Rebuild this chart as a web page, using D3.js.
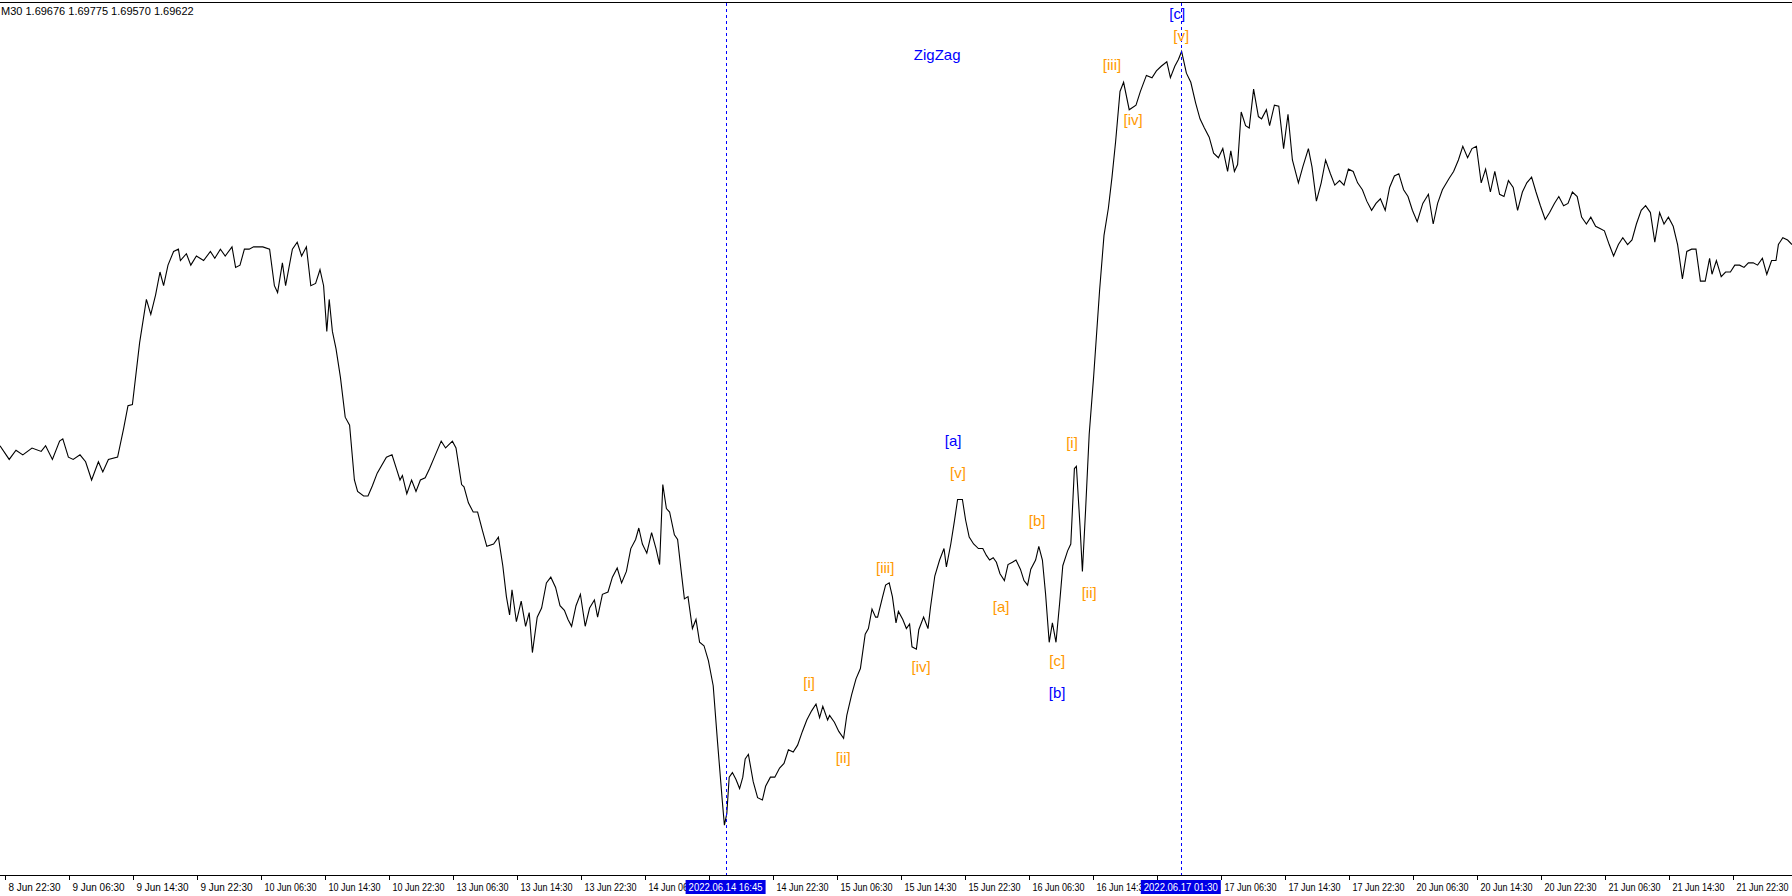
<!DOCTYPE html>
<html><head><meta charset="utf-8">
<script src="https://cdn.jsdelivr.net/npm/d3@7"></script>
<style>html,body{margin:0;padding:0;background:#fff;overflow:hidden}svg{display:block}</style>
</head><body>
<svg id="c" width="1792" height="896"></svg>
<script>
const headerText = "M30  1.69676 1.69775 1.69570 1.69622";
const barIndex = [
0,2.3,4,5.7,8,10.3,11.4,13.1,14.9,15.7,17.1,18.3,20,21.4,22.9,24.6,25.7,27.1,29.4,30.9,
32,33.1,34.9,36.6,37.7,38.9,40,40.9,42,43.4,44.6,45.1,46.6,47.7,49.1,50.9,52.6,53.7,55.1,56.3,
58,58.9,60,61.1,62.3,63.4,65.7,67.4,68.6,69.4,70.6,71.4,73.1,74.3,75.4,76.6,77.7,78.9,80,80.9,
81.7,82.3,83.1,84,85.1,86.3,87.4,88.6,89.4,90.9,92,93.1,94.3,96.6,98,99.1,100,100.6,101.7,102.9,
104,105.1,106.3,107.4,108.6,110.3,111.4,113.1,114,115.4,116,117.1,118.3,119.4,120.6,121.7,123.4,124.6,125.7,126.6,
127.4,128,129.1,130.3,131.4,132.3,133.1,134.3,135.4,136.6,137.7,138.9,140,141.1,142,142.9,144,145.1,146.3,147.4,
148.6,149.4,150.6,152,153.1,154.3,155.4,156.6,157.7,158.9,159.7,160.6,161.7,162.9,164,164.9,165.7,166.6,167.4,168.6,
169.4,170.3,171.1,172,173.1,174,174.9,176,177.1,178.3,179.4,180.6,181.1,181.7,182.3,183.1,184,184.9,185.7,186.3,
187.1,188.3,189.4,190.6,191.4,192.6,193.7,194.9,196,197.1,198.3,199.4,200.6,201.7,202.9,204,204.9,205.7,206.9,207.4,
208.6,209.7,210.9,211.7,212.9,214,215.1,216.3,217.1,218,218.9,219.4,220.6,221.4,222.3,223.1,224,224.6,225.7,226.6,
227.4,228,229.1,229.7,230.9,232,232.6,233.7,234.9,236,236.6,237.7,238.6,239.4,240.6,241.4,242.3,243.4,244.6,245.7,
246.6,247.4,248.3,249.1,250,251.1,252,253.1,254,255.1,256,256.9,257.7,258.9,259.7,260.6,261.4,262.3,263.1,264,
264.9,265.7,266.9,267.7,268.6,269.1,270,270.6,271.4,272.3,273.4,274.9,276,277.1,278,278.9,280,280.9,282.3,284,
285.1,286.6,288,289.1,290.3,291.7,292.6,293.7,294.6,295.4,296.6,297.7,298.9,300,301.1,302.3,303.4,304.6,305.7,306.9,
307.7,308.6,309.4,310.3,311.4,312.3,313.4,314.6,315.4,316.6,317.4,318.6,319.7,320.9,322,323.1,324.6,325.7,327.1,328,
329.1,330.3,331.4,332.6,333.7,334.9,336,337.1,338.3,339.4,340.6,341.7,342.9,344,345.1,346.3,347.4,348.6,349.7,350.9,
352,353.1,354.3,355.7,357.1,358.3,359.4,360.6,362.3,363.4,364.6,365.7,366.9,368,369.1,370.3,371.4,372.6,373.7,374.9,
376,377.1,378.3,379.4,380.6,381.7,382.9,384,385.1,386.3,387.4,388.6,389.7,390.9,392,393.1,394.3,395.4,396.6,397.7,
398.9,400,401.1,402.3,403.4,404.6,405.7,406.9,408,409.1,410.3,411.4,412.6,413.7,414.9,416,417.1,418.3,419.4,420.6,
421.7,422.9,424,425.1,426.3,427.4,428,429.1,430.3,431.4,432.6,433.7,434.9,436,437.1,438.3,439.4,440.6,441.7,442.9,
444,444.6,445.7,446.9,448];
const closePrice = [
1.6784,1.6772,1.6780,1.6776,1.6782,1.6779,1.6784,1.6772,1.6788,1.6790,1.6774,1.6772,1.6776,1.6770,1.6754,1.6770,1.6761,1.6772,1.6774,1.6799,
1.6819,1.6820,1.6874,1.6912,1.6899,1.6916,1.6936,1.6924,1.6942,1.6954,1.6956,1.6946,1.6952,1.6942,1.6950,1.6946,1.6954,1.6948,1.6956,1.6950,
1.6958,1.6940,1.6942,1.6956,1.6956,1.6958,1.6958,1.6956,1.6924,1.6918,1.6944,1.6924,1.6956,1.6962,1.6950,1.6958,1.6924,1.6926,1.6938,1.6924,
1.6884,1.6912,1.6884,1.6869,1.6844,1.6809,1.6802,1.6754,1.6744,1.6740,1.6740,1.6749,1.6760,1.6774,1.6776,1.6764,1.6754,1.6758,1.6742,1.6754,
1.6744,1.6754,1.6756,1.6764,1.6774,1.6788,1.6782,1.6788,1.6782,1.6750,1.6748,1.6734,1.6726,1.6726,1.6710,1.6696,1.6698,1.6704,1.6679,1.6652,
1.6636,1.6658,1.6630,1.6648,1.6626,1.6638,1.6603,1.6634,1.6642,1.6664,1.6669,1.6660,1.6644,1.6640,1.6632,1.6626,1.6644,1.6654,1.6626,1.6642,
1.6649,1.6634,1.6654,1.6656,1.6669,1.6677,1.6664,1.6674,1.6694,1.6702,1.6712,1.6698,1.6690,1.6708,1.6694,1.6680,1.6750,1.6729,1.6726,1.6706,
1.6702,1.6674,1.6650,1.6652,1.6624,1.6632,1.6612,1.6609,1.6596,1.6574,1.6524,1.6472,1.6452,1.6462,1.6494,1.6498,1.6492,1.6484,1.6494,1.6510,
1.6514,1.6490,1.6476,1.6474,1.6486,1.6494,1.6494,1.6502,1.6506,1.6518,1.6516,1.6522,1.6534,1.6544,1.6552,1.6558,1.6546,1.6556,1.6544,1.6548,
1.6542,1.6534,1.6528,1.6548,1.6566,1.6580,1.6589,1.6619,1.6624,1.6641,1.6634,1.6634,1.6651,1.6662,1.6664,1.6652,1.6629,1.6639,1.6632,1.6624,
1.6628,1.6608,1.6606,1.6623,1.6634,1.6624,1.6642,1.6670,1.6684,1.6694,1.6678,1.6698,1.6718,1.6737,1.6737,1.6719,1.6704,1.6698,1.6694,1.6694,
1.6688,1.6684,1.6686,1.6682,1.6672,1.6666,1.6680,1.6682,1.6684,1.6676,1.6666,1.6662,1.6676,1.6684,1.6696,1.6684,1.6654,1.6612,1.6629,1.6612,
1.6646,1.6679,1.6692,1.6698,1.6764,1.6766,1.6714,1.6674,1.6728,1.6794,1.6844,1.6920,1.6968,1.6992,1.7019,1.7050,1.7094,1.7102,1.7078,1.7082,
1.7094,1.7108,1.7106,1.7112,1.7116,1.7120,1.7106,1.7116,1.7122,1.7129,1.7110,1.7102,1.7084,1.7070,1.7062,1.7054,1.7040,1.7036,1.7044,1.7024,
1.7042,1.7024,1.7030,1.7076,1.7064,1.7062,1.7096,1.7072,1.7070,1.7078,1.7064,1.7082,1.7081,1.7044,1.7074,1.7034,1.7014,1.7028,1.7044,1.7028,
1.6998,1.7014,1.7034,1.7022,1.7012,1.7016,1.7012,1.7026,1.7024,1.7014,1.7008,1.6998,1.6990,1.6996,1.7000,1.6990,1.7010,1.7020,1.7022,1.7008,
1.7002,1.6990,1.6980,1.6996,1.7004,1.6978,1.6996,1.7008,1.7018,1.7024,1.7034,1.7046,1.7036,1.7044,1.7046,1.7014,1.7026,1.7006,1.7024,1.7004,
1.7002,1.7016,1.7010,1.6990,1.7006,1.7014,1.7019,1.7006,1.6994,1.6982,1.6988,1.6996,1.7002,1.6994,1.6996,1.7006,1.7002,1.6984,1.6978,1.6984,
1.6976,1.6974,1.6972,1.6960,1.6950,1.6960,1.6966,1.6960,1.6964,1.6978,1.6990,1.6994,1.6988,1.6962,1.6988,1.6978,1.6984,1.6976,1.6960,1.6930,
1.6954,1.6956,1.6956,1.6928,1.6928,1.6948,1.6934,1.6946,1.6932,1.6936,1.6936,1.6942,1.6942,1.6940,1.6944,1.6944,1.6942,1.6948,1.6934,1.6946,
1.6946,1.6960,1.6966,1.6964,1.6960];
const tickBars = d3.range(28).map(k => 1.15 + 16 * k);
const tickLabels = ["8 Jun 22:30","9 Jun 06:30","9 Jun 14:30","9 Jun 22:30","10 Jun 06:30","10 Jun 14:30","10 Jun 22:30",
"13 Jun 06:30","13 Jun 14:30","13 Jun 22:30","14 Jun 06:30","14 Jun 14:30","14 Jun 22:30","15 Jun 06:30","15 Jun 14:30",
"15 Jun 22:30","16 Jun 06:30","16 Jun 14:30","16 Jun 22:30","17 Jun 06:30","17 Jun 14:30","17 Jun 22:30","20 Jun 06:30",
"20 Jun 14:30","20 Jun 22:30","21 Jun 06:30","21 Jun 14:30","21 Jun 22:30"];
const markerBars = [181.4, 295.2];
const markerLabels = ["2022.06.14 16:45", "2022.06.17 01:30"];
const waveText = ["ZigZag","[a]","[v]","[iii]","[i]","[ii]","[iv]","[a]","[b]","[c]","[b]","[i]","[ii]","[iii]","[iv]","[v]","[c]"];
const waveBar  = [234.3,238.3,239.5,221.3,202.3,210.8,230.3,250.3,259.3,264.3,264.3,268,272.3,278,283.3,295.3,294.3];
const wavePrice= [1.7126,1.6788,1.6760,1.6677,1.6577,1.6511,1.6591,1.6643,1.6718,1.6596,1.6568,1.6787,1.6655,1.7117,1.7069,1.7143,1.7162];
const waveColor= ["b","b","o","o","o","o","o","o","o","o","b","o","o","o","o","o","b"];

const W = 1792, H = 896, axisY = 875;
const svg = d3.select("#c");
const x = d3.scaleLinear().domain([0, 448]).range([0, W]);
const y = d3.scaleLinear().domain([1.7174, 1.6390]).range([0, H]);
const BLUE = "#0000ff", ORANGE = "#ff9900";

svg.append("line").attr("x1",0).attr("x2",W).attr("y1",2.5).attr("y2",2.5).attr("stroke","#000");
svg.append("text").attr("x",1).attr("y",15).attr("font-family","Liberation Sans, Arial").attr("font-size",11).text(headerText);

const n = Math.min(barIndex.length, closePrice.length);
const pts = d3.range(n).map(i => [barIndex[i], closePrice[i]]);
svg.append("path").datum(pts).attr("fill","none").attr("stroke","#000").attr("stroke-width",1.1)
  .attr("d", d3.line().x(d => x(d[0])).y(d => y(d[1])));

markerBars.forEach(b => {
  svg.append("line").attr("x1",Math.round(x(b))+0.5).attr("x2",Math.round(x(b))+0.5).attr("y1",3).attr("y2",axisY)
    .attr("stroke",BLUE).attr("stroke-dasharray","3,3");
});

svg.append("line").attr("x1",0).attr("x2",W).attr("y1",axisY+0.5).attr("y2",axisY+0.5).attr("stroke","#000");
const ax = svg.append("g").attr("font-family","Liberation Sans, Arial").attr("font-size",10);
tickBars.forEach((b, i) => {
  const tx = Math.round(x(b)) + 0.5;
  ax.append("line").attr("x1",tx).attr("x2",tx).attr("y1",axisY).attr("y2",axisY+5).attr("stroke","#000");
  ax.append("text").attr("x",tx+3).attr("y",axisY+16).attr("textLength",52).attr("lengthAdjust","spacingAndGlyphs")
    .text(tickLabels[i]);
});
markerBars.forEach((b, i) => {
  const cx = x(b), w = 80;
  ax.append("rect").attr("x",cx-w/2).attr("y",axisY+5).attr("width",w).attr("height",14).attr("fill","#0000e6");
  ax.append("text").attr("x",cx).attr("y",axisY+16).attr("text-anchor","middle").attr("fill","#fff")
    .attr("textLength",74).attr("lengthAdjust","spacingAndGlyphs").text(markerLabels[i]);
});

const wl = svg.append("g").attr("font-family","Liberation Sans, Arial").attr("font-size",15);
waveText.forEach((t, i) => {
  wl.append("text").attr("x",x(waveBar[i])).attr("y",y(wavePrice[i])).attr("dy","0.35em")
    .attr("text-anchor","middle").attr("fill", waveColor[i]==="b" ? BLUE : ORANGE).text(t);
});
</script>
</body></html>
